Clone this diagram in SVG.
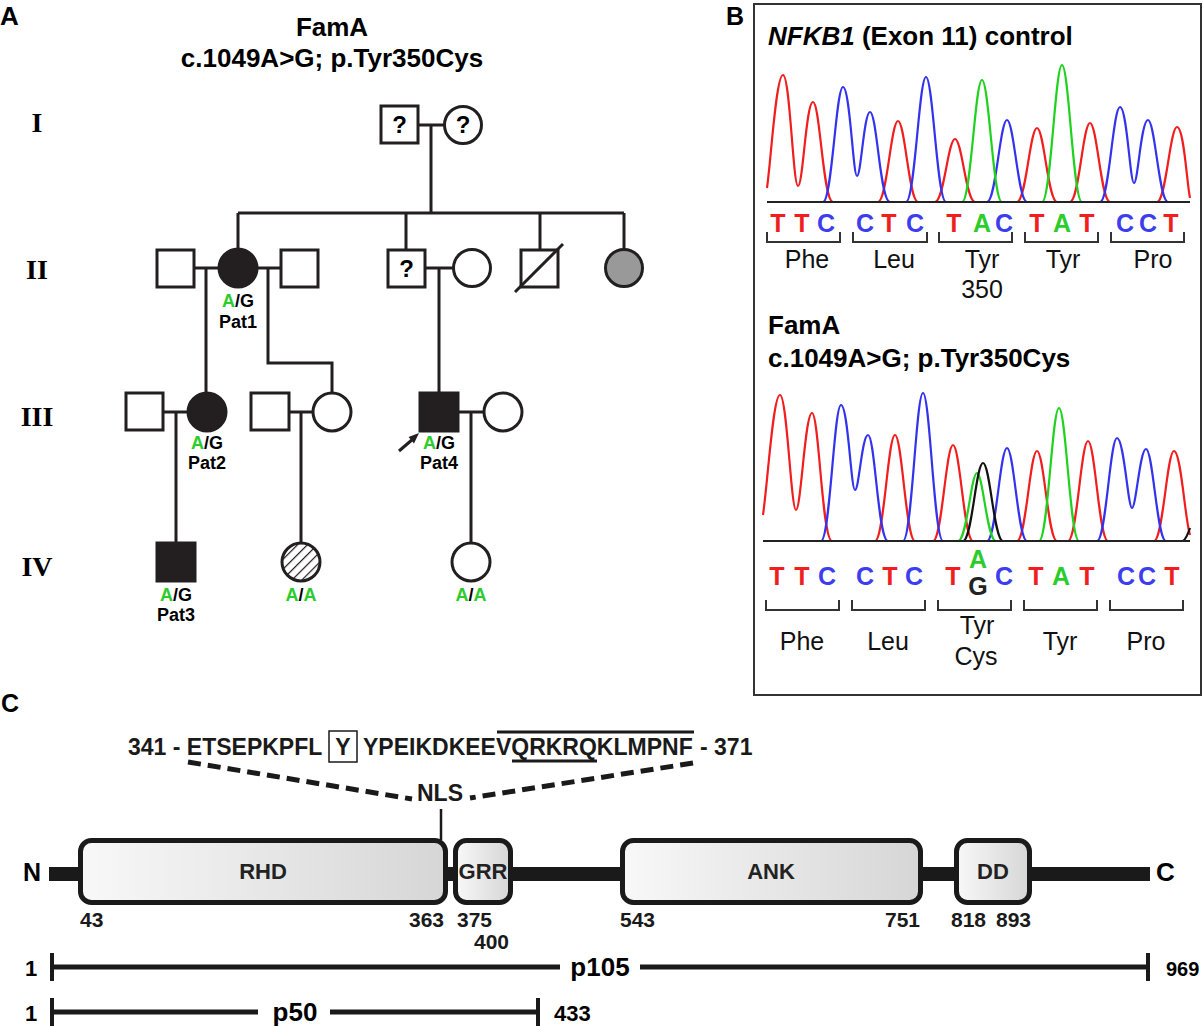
<svg xmlns="http://www.w3.org/2000/svg" width="1203" height="1026" viewBox="0 0 1203 1026">
<style>
.s{font-family:"Liberation Sans",Arial,sans-serif}
.b{font-family:"Liberation Sans",Arial,sans-serif;font-weight:bold}
.r{font-family:"Liberation Serif","Times New Roman",serif;font-weight:bold;font-size:28px}
.ln{stroke:#231f20;stroke-width:3;fill:none}
.nd{stroke:#231f20;stroke-width:3;fill:#fff}
.fl{stroke:#231f20;stroke-width:3;fill:#231f20}
.g{fill:#2bcc2b}
.tr{fill:none;stroke-width:2.2;stroke-linejoin:round}
.red{stroke:#f01e1e}
.blu{stroke:#3333ee}
.grn{stroke:#1fd21f}
.blk{stroke:#111}
.LR{fill:#f01e1e}
.LB{fill:#3d3df0}
.LG{fill:#2bcc2b}
.brk{fill:none;stroke:#333;stroke-width:2}
.dom{fill:url(#dg);stroke:#1a1a1a;stroke-width:5}
.thk{stroke:#1a1a1a;stroke-width:5;fill:none}
.tick{stroke:#1a1a1a;stroke-width:4;fill:none}
</style>
<defs>
<linearGradient id="dg" x1="0" y1="0" x2="1" y2="0">
<stop offset="0" stop-color="#f8f8f8"/>
<stop offset="1" stop-color="#d6d6d6"/>
</linearGradient>
<pattern id="hatch" width="7" height="7" patternUnits="userSpaceOnUse" patternTransform="rotate(45)">
<rect width="7" height="7" fill="#fff"/>
<line x1="0" y1="0" x2="0" y2="7" stroke="#231f20" stroke-width="2.4"/>
</pattern>
</defs>
<rect width="1203" height="1026" fill="#fff"/>

<!-- Panel labels -->
<text class="b" x="0" y="25" font-size="26">A</text>
<text class="b" x="726" y="25" font-size="25">B</text>
<text class="b" x="1" y="712" font-size="25">C</text>

<!-- Panel A -->
<g id="pedigree-title">
<text class="b" x="332" y="36" font-size="26" text-anchor="middle">FamA</text>
<text class="b" x="332" y="67" font-size="26" text-anchor="middle">c.1049A&gt;G; p.Tyr350Cys</text>
</g>
<g id="generations">
<text class="r" x="37" y="132" text-anchor="middle">I</text>
<text class="r" x="37" y="279" text-anchor="middle">II</text>
<text class="r" x="37" y="426" text-anchor="middle">III</text>
<text class="r" x="37" y="576" text-anchor="middle">IV</text>
</g>

<g id="connectors">
<path class="ln" d="M418 125H445M431 125V213M238 213H624M238 213V249M406 213V250M540 213V250M624 213V250"/>
<path class="ln" d="M194 268H219M206 268V393M257 268H281M268 268V363H332V393M425 268H453M439 268V393"/>
<path class="ln" d="M163 412H188M176 412V543M289 412H313M301 412V543M458 412H484M471 412V543"/>
</g>

<g id="I-1"><rect class="nd" x="381" y="106" width="37" height="37"/><text class="b" x="399.5" y="133" font-size="24" text-anchor="middle">?</text></g>
<g id="I-2"><circle class="nd" cx="463" cy="125" r="18.5"/><text class="b" x="463" y="133" font-size="24" text-anchor="middle">?</text></g>

<g id="II-1"><rect class="nd" x="157" y="250" width="37" height="37"/></g>
<g id="II-2"><circle class="fl" cx="238" cy="268" r="19"/>
<text class="b" x="238" y="307" font-size="18" text-anchor="middle"><tspan class="g">A</tspan>/G</text>
<text class="b" x="238" y="328" font-size="18" text-anchor="middle">Pat1</text></g>
<g id="II-3"><rect class="nd" x="281" y="250" width="37" height="37"/></g>
<g id="II-4"><rect class="nd" x="388" y="250" width="37" height="37"/><text class="b" x="406.5" y="277" font-size="24" text-anchor="middle">?</text></g>
<g id="II-5"><circle class="nd" cx="472" cy="268" r="18.5"/></g>
<g id="II-6"><rect class="nd" x="521" y="250" width="37" height="37"/><line class="ln" x1="515" y1="292" x2="563" y2="244"/></g>
<g id="II-7"><circle cx="624" cy="268" r="18.5" fill="#999" stroke="#231f20" stroke-width="3"/></g>

<g id="III-1"><rect class="nd" x="126" y="393" width="37" height="37"/></g>
<g id="III-2"><circle class="fl" cx="207" cy="412" r="19"/>
<text class="b" x="207" y="449" font-size="18" text-anchor="middle"><tspan class="g">A</tspan>/G</text>
<text class="b" x="207" y="469" font-size="18" text-anchor="middle">Pat2</text></g>
<g id="III-3"><rect class="nd" x="251" y="393" width="38" height="37"/></g>
<g id="III-4"><circle class="nd" cx="332" cy="412" r="19"/></g>
<g id="III-5"><rect class="fl" x="420" y="393" width="38" height="38"/>
<text class="b" x="439" y="449" font-size="18" text-anchor="middle"><tspan class="g">A</tspan>/G</text>
<text class="b" x="439" y="469" font-size="18" text-anchor="middle">Pat4</text>
<line x1="399" y1="451" x2="413" y2="439" stroke="#231f20" stroke-width="3"/>
<polygon points="419,433 408.6,437 414,443.5" fill="#231f20"/></g>
<g id="III-6"><circle class="nd" cx="503" cy="412" r="19"/></g>

<g id="IV-1"><rect class="fl" x="157" y="543" width="38" height="38"/>
<text class="b" x="176" y="601" font-size="18" text-anchor="middle"><tspan class="g">A</tspan>/G</text>
<text class="b" x="176" y="621" font-size="18" text-anchor="middle">Pat3</text></g>
<g id="IV-2"><circle cx="301" cy="562" r="19" fill="url(#hatch)" stroke="#231f20" stroke-width="3"/>
<text class="b" x="301" y="601" font-size="18" text-anchor="middle"><tspan class="g">A</tspan>/<tspan class="g">A</tspan></text></g>
<g id="IV-3"><circle class="nd" cx="471" cy="562" r="19"/>
<text class="b" x="471" y="601" font-size="18" text-anchor="middle"><tspan class="g">A</tspan>/<tspan class="g">A</tspan></text></g>

<!-- Panel B -->
<g id="panelB">
<rect x="754" y="4" width="447" height="691" fill="none" stroke="#333" stroke-width="2"/>
<text class="b" x="768" y="45" font-size="26"><tspan font-style="italic">NFKB1</tspan> (Exon 11) control</text>

<g id="control-trace">
<path class="tr red" d="M767 188C771 160 776 75 783 75C790 75 793 186 798 186C803 186 806 102 813 102C820 102 823 202 833 202M878 202C887 202 891 121 898 121C905 121 909 202 918 202M935 202C944 202 948 139 955 139C962 139 966 202 975 202M1017 202C1026 202 1030 128 1037 128C1044 128 1048 202 1057 202M1070 202C1079 202 1083 123 1090 123C1097 123 1101 202 1110 202M1157 202C1166 202 1170 127 1177 127C1184 127 1187 185 1190 198"/>
<path class="tr blu" d="M823 202C832 202 836 87 843 87C850 87 853 176 857 176C861 176 864 112 870 112C877 112 880 202 890 202M906 202C915 202 919 77 926 77C933 77 937 202 946 202M987 202C996 202 1000 120 1007 120C1014 120 1018 202 1027 202M1100 202C1109 202 1113 107 1120 107C1127 107 1130 183 1134 183C1138 183 1141 120 1148 120C1155 120 1159 202 1168 202"/>
<path class="tr grn" d="M962 202C971 202 975 80 982 80C989 80 993 202 1002 202M1042 202C1051 202 1055 65 1062 65C1069 65 1073 202 1082 202"/>
<line x1="767" y1="202" x2="1190" y2="202" stroke="#222" stroke-width="2.2"/>
</g>
<g id="control-bases" class="b" font-size="25" text-anchor="middle">
<text class="LR" x="778" y="232">T</text><text class="LR" x="802" y="232">T</text><text class="LB" x="826" y="232">C</text>
<text class="LB" x="865" y="232">C</text><text class="LR" x="889" y="232">T</text><text class="LB" x="915" y="232">C</text>
<text class="LR" x="954" y="232">T</text><text class="LG" x="982" y="232">A</text><text class="LB" x="1004" y="232">C</text>
<text class="LR" x="1037" y="232">T</text><text class="LG" x="1062" y="232">A</text><text class="LR" x="1087" y="232">T</text>
<text class="LB" x="1125" y="232">C</text><text class="LB" x="1148" y="232">C</text><text class="LR" x="1171" y="232">T</text>
</g>
<path class="brk" d="M767 232V242H840V232M853 232V242H927V232M939 232V242H1012V232M1025 232V242H1098V232M1111 232V242H1184V232"/>
<g class="s" font-size="25" text-anchor="middle" fill="#111">
<text x="807" y="268">Phe</text><text x="894" y="268">Leu</text><text x="982" y="268">Tyr</text><text x="982" y="298">350</text><text x="1063" y="268">Tyr</text><text x="1153" y="268">Pro</text>
</g>

<text class="b" x="768" y="334" font-size="26">FamA</text>
<text class="b" x="768" y="367" font-size="26">c.1049A&gt;G; p.Tyr350Cys</text>

<g id="mutant-trace">
<path class="tr red" d="M763 515C768 480 773 395 780 395C787 395 791 510 796 510C801 510 805 413 812 413C819 413 822 541 832 541M875 541C884 541 888 435 895 435C902 435 906 541 915 541M933 541C942 541 946 445 953 445C960 445 964 541 973 541M1017 541C1026 541 1030 451 1037 451C1044 451 1048 541 1057 541M1068 541C1077 541 1081 441 1088 441C1095 441 1099 541 1108 541M1154 541C1163 541 1167 451 1174 451C1181 451 1185 520 1190 535"/>
<path class="tr blu" d="M821 541C830 541 834 405 841 405C848 405 851 490 855 490C859 490 862 435 868 435C875 435 878 541 888 541M903 541C912 541 916 393 923 393C930 393 934 541 943 541M987 541C996 541 1000 448 1007 448C1014 448 1018 541 1027 541M1097 541C1106 541 1110 438 1117 438C1124 438 1128 508 1132 508C1136 508 1140 449 1146 449C1153 449 1157 541 1166 541"/>
<path class="tr grn" d="M958 541C967 541 971 473 977 473C983 473 987 541 996 541M1039 541C1048 541 1052 408 1059 408C1066 408 1070 541 1079 541"/>
<path class="tr blk" d="M963 541C972 541 976 463 983 463C990 463 994 541 1003 541M1183 541C1186 539 1188 534 1190 528"/>
<line x1="763" y1="541" x2="1190" y2="541" stroke="#222" stroke-width="2.2"/>
</g>
<g id="mutant-bases" class="b" font-size="25" text-anchor="middle">
<text class="LR" x="777" y="585">T</text><text class="LR" x="802" y="585">T</text><text class="LB" x="827" y="585">C</text>
<text class="LB" x="865" y="585">C</text><text class="LR" x="890" y="585">T</text><text class="LB" x="914" y="585">C</text>
<text class="LR" x="953" y="585">T</text><text class="LG" x="978" y="568">A</text><text x="978" y="595" fill="#222">G</text><text class="LB" x="1004" y="585">C</text>
<text class="LR" x="1036" y="585">T</text><text class="LG" x="1061" y="585">A</text><text class="LR" x="1087" y="585">T</text>
<text class="LB" x="1126" y="585">C</text><text class="LB" x="1147" y="585">C</text><text class="LR" x="1172" y="585">T</text>
</g>
<path class="brk" d="M766 600V610H839V600M852 600V610H925V600M938 600V610H1011V600M1024 600V610H1097V600M1110 600V610H1183V600"/>
<g class="s" font-size="25" text-anchor="middle" fill="#111">
<text x="802" y="650">Phe</text><text x="888" y="650">Leu</text><text x="977" y="634">Tyr</text><text x="976" y="665">Cys</text><text x="1060" y="650">Tyr</text><text x="1146" y="650">Pro</text>
</g>
</g>

<!-- Panel C -->
<g id="sequence" class="b" font-size="23" fill="#1a1a1a">
<text x="128" y="755">341 - ETSEPKPFL</text>
<rect x="329" y="731" width="28" height="31" fill="none" stroke="#1a1a1a" stroke-width="1.5"/>
<text x="343" y="755" text-anchor="middle">Y</text>
<text x="363" y="755">YPEIKDKEEVQRKRQKLMPNF</text>
<text x="700" y="755">- 371</text>
<line x1="497" y1="732" x2="694" y2="732" stroke="#1a1a1a" stroke-width="3"/>
<line x1="512" y1="761" x2="597" y2="761" stroke="#1a1a1a" stroke-width="3"/>
<text x="440" y="801" text-anchor="middle">NLS</text>
</g>
<g id="nls-connectors">
<line x1="188" y1="762" x2="412" y2="799" stroke="#1a1a1a" stroke-width="5" stroke-dasharray="13 7"/>
<line x1="693" y1="763" x2="470" y2="798" stroke="#1a1a1a" stroke-width="5" stroke-dasharray="13 7"/>
<line x1="441" y1="809" x2="441" y2="840" stroke="#1a1a1a" stroke-width="2.5"/>
</g>

<g id="protein">
<rect x="49" y="867" width="1101" height="14" fill="#1a1a1a"/>
<text class="b" x="23" y="881" font-size="25">N</text>
<text class="b" x="1156" y="881" font-size="26">C</text>
<g id="RHD"><rect class="dom" x="80.5" y="840.5" width="365" height="62" rx="11"/><text class="b" x="263" y="879" font-size="22" text-anchor="middle" fill="#222">RHD</text></g>
<g id="GRR"><rect class="dom" x="455.5" y="840.5" width="55" height="62" rx="11"/><text class="b" x="483" y="879" font-size="22" text-anchor="middle" fill="#222">GRR</text></g>
<g id="ANK"><rect class="dom" x="622.5" y="840.5" width="298" height="62" rx="11"/><text class="b" x="771" y="879" font-size="22" text-anchor="middle" fill="#222">ANK</text></g>
<g id="DD"><rect class="dom" x="956.5" y="840.5" width="73" height="62" rx="11"/><text class="b" x="993" y="879" font-size="22" text-anchor="middle" fill="#222">DD</text></g>
<g class="b" font-size="21" fill="#1a1a1a">
<text x="80" y="927">43</text><text x="409" y="927">363</text><text x="457" y="927">375</text><text x="474" y="949">400</text>
<text x="620" y="927">543</text><text x="885" y="927">751</text><text x="951" y="927">818</text><text x="996" y="927">893</text>
</g>
</g>

<g id="p105">
<path class="thk" d="M52 967H560M640 967H1148"/>
<path class="tick" d="M52 953V981M1148 953V981"/>
<text class="b" x="25" y="976" font-size="22">1</text>
<text class="b" x="600" y="976" font-size="26" text-anchor="middle">p105</text>
<text class="b" x="1166" y="976" font-size="20">969</text>
</g>
<g id="p50">
<path class="thk" d="M52 1012H258M330 1012H538"/>
<path class="tick" d="M52 998V1026M538 998V1026"/>
<text class="b" x="25" y="1021" font-size="22">1</text>
<text class="b" x="295" y="1021" font-size="26" text-anchor="middle">p50</text>
<text class="b" x="554" y="1021" font-size="22">433</text>
</g>
</svg>
